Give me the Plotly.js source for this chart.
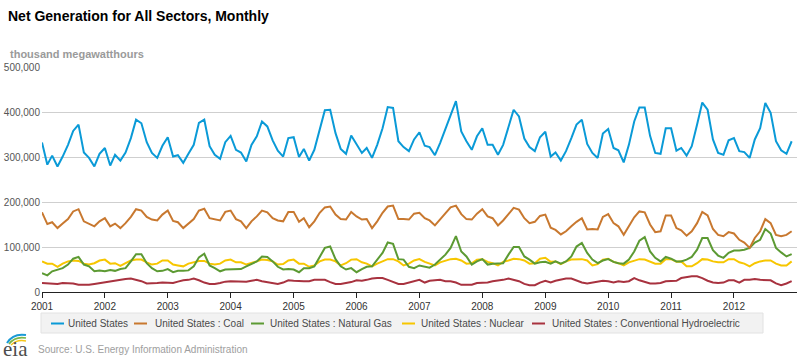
<!DOCTYPE html>
<html>
<head>
<meta charset="utf-8">
<script src="https://cdn.plot.ly/plotly-3.0.1.min.js"></script>
<style>
html,body{margin:0;padding:0;background:#fff;}
#chart{width:800px;height:361px;}
</style>
</head>
<body>
<div id="chart"></div>
<script>
// ---- Data (thousand megawatthours), monthly Jan 2001 - Dec 2012 ----
const years = [2001,2002,2003,2004,2005,2006,2007,2008,2009,2010,2011,2012];
const xTickLabels = ['2001','2002','2003','2004','2005','2006','2007','2008','2009','2010','2011','2012'];
const yTickValues = [0,100000,200000,300000,400000,500000];

const seriesNames = ['United States','United States : Coal','United States : Natural Gas','United States : Nuclear','United States : Conventional Hydroelectric'];

const unitedStates = [
 332,283,303,279,301,327,358,372,310,298,279,307,
 320,281,305,292,310,342,383,375,333,309,298,325,
 344,301,304,287,307,327,376,383,324,305,296,333,
 347,316,310,290,327,346,379,368,337,314,301,342,
 344,300,318,292,316,361,404,405,353,318,307,348,
 327,309,320,298,327,364,411,409,335,322,313,339,
 355,325,322,304,331,361,390,424,357,335,316,346,
 364,327,327,305,327,368,405,390,341,322,313,344,
 356,301,310,292,313,342,372,383,329,309,298,352,
 362,320,315,288,327,379,410,410,347,309,307,364,
 364,314,320,303,324,372,421,405,339,309,305,337,
 342,313,311,298,339,364,420,398,335,315,307,335
];
const coal = [
 177,151,155,142,152,162,179,184,157,151,146,157,
 164,146,152,142,153,167,184,181,167,161,159,172,
 181,158,155,142,151,162,181,185,164,161,159,178,
 181,162,157,142,157,168,181,177,164,159,157,178,
 178,156,164,144,157,176,188,190,172,162,161,178,
 168,161,162,142,157,176,190,192,162,162,161,174,
 176,164,159,148,161,174,188,192,173,162,161,174,
 184,168,164,148,159,173,187,183,164,153,156,169,
 172,143,138,128,135,146,156,164,139,140,139,167,
 173,153,146,127,146,166,179,177,150,133,135,170,
 170,142,137,125,135,153,178,170,140,127,124,133,
 130,116,110,98,120,135,162,153,127,124,127,135
];
const naturalGas = [
 42,37,46,50,53,61,74,78,61,57,46,48,
 46,49,47,51,53,68,84,84,64,53,46,47,
 51,44,47,47,48,57,77,85,59,53,46,50,
 50,51,51,57,63,68,79,78,68,56,50,51,
 50,44,53,53,57,79,98,101,73,57,50,53,
 44,51,56,57,72,87,110,107,73,72,56,53,
 59,57,54,61,72,83,98,124,90,79,61,68,
 73,61,63,64,64,83,100,100,79,72,63,66,
 67,63,68,63,68,79,101,109,87,72,64,70,
 73,67,64,63,72,90,114,122,90,76,68,78,
 74,68,68,72,78,94,120,120,93,81,76,87,
 92,92,94,98,110,116,140,130,98,88,79,84
];
const nuclear = [
 68,63,63,56,63,68,70,69,63,61,64,70,
 72,63,64,58,64,70,72,72,66,61,63,70,
 70,61,59,57,63,66,69,69,63,61,63,70,
 72,66,66,61,64,68,72,71,68,61,62,70,
 72,63,63,56,59,68,72,72,68,59,64,72,
 73,66,63,57,63,68,73,73,68,59,63,70,
 73,67,63,59,66,70,73,74,70,63,64,72,
 73,67,64,59,67,70,74,73,70,63,64,74,
 76,67,68,62,68,72,73,73,70,59,62,72,
 74,67,64,59,66,70,73,72,68,63,63,73,
 73,67,68,57,57,64,73,72,68,66,66,73,
 73,66,63,57,64,68,70,70,63,59,59,68
];
const hydro = [
 20,19,19,18,20,20,19,16,16,16,18,20,
 21,24,26,27,29,30,27,24,19,19,20,21,
 21,20,23,26,27,30,26,21,18,18,20,23,
 24,24,24,23,25,27,24,22,20,18,21,26,
 25,24,24,24,27,27,27,22,18,18,20,22,
 26,25,27,30,31,31,27,22,18,18,21,24,
 27,21,25,26,27,24,24,21,16,16,16,20,
 21,21,24,25,27,30,27,24,18,15,15,21,
 25,21,25,28,30,30,26,21,19,21,24,25,
 24,21,24,22,24,31,26,22,19,19,20,24,
 25,25,31,33,35,35,31,25,21,20,21,26,
 26,21,27,27,29,27,27,26,19,15,19,24
];
const colors = ['#0a9ad7','#c8782f','#5c9a33','#f7c600','#a8323f'];

// ---- build month dates ----
const months = [];
years.forEach(y => { for (let m = 1; m <= 12; m++) months.push(y + '-' + String(m).padStart(2,'0') + '-01'); });

const allSeries = [unitedStates, coal, naturalGas, nuclear, hydro];
const traces = allSeries.map((vals, i) => ({
  type: 'scatter', mode: 'lines', name: seriesNames[i],
  x: months, y: vals.map(v => v * 1000),
  line: {color: colors[i], width: 2},
  hoverinfo: 'x+y+name'
})).reverse();

// ---- layout helpers (pixel -> paper) ----
const L = 42, R = 3, T = 67, B = 69;
const W = 800 - L - R, H = 361 - T - B;
const px = p => (p - L) / W;
const py = p => (T + H - p) / H;

const font = 'Liberation Sans, Arial, Helvetica, sans-serif';
const shapes = [];
const annotations = [];

// units label
annotations.push({xref:'paper', yref:'paper', x: px(8), y: py(54), xanchor:'left', yanchor:'middle',
  text:'<b>thousand megawatthours</b>', showarrow:false, font:{family:font, size:11, color:'#9a9a9a'}});

// legend box
shapes.push({type:'rect', xref:'paper', yref:'paper', x0:px(41), x1:px(763), y0:py(313), y1:py(333),
  fillcolor:'#f2f2f2', line:{color:'#e2e2e2', width:1}, layer:'above'});
const legendLineX = [51, 134, 251, 402, 532];
const legendTextX = [67, 154, 269, 420, 551];
legendLineX.forEach((lx, i) => {
  shapes.push({type:'line', xref:'paper', yref:'paper', x0:px(lx), x1:px(lx+13), y0:py(323.5), y1:py(323.5),
    line:{color:colors[i], width:2}, layer:'above'});
  annotations.push({xref:'paper', yref:'paper', x: px(legendTextX[i] - 1), y: py(323.5), xanchor:'left', yanchor:'middle',
    text: seriesNames[i], showarrow:false, font:{family:font, size:10, color:'#4a4a4a'}});
});

// source
annotations.push({xref:'paper', yref:'paper', x: px(36), y: py(349), xanchor:'left', yanchor:'middle',
  text:'Source: U.S. Energy Information Administration', showarrow:false, font:{family:font, size:10, color:'#9e9e9e'}});

// eia logo
annotations.push({xref:'paper', yref:'paper', x: px(15), y: py(349), xanchor:'center', yanchor:'middle',
  text:'eia', showarrow:false, font:{family:'Liberation Serif, DejaVu Serif, serif', size:21, color:'#4d4d4d'}});
const arc = (x0, y0, cx, cy, x1, y1) => 'M ' + px(x0) + ',' + py(y0) + ' Q ' + px(cx) + ',' + py(cy) + ' ' + px(x1) + ',' + py(y1);
shapes.push({type:'path', xref:'paper', yref:'paper', path: arc(7,343,13,333,26,335), line:{color:'#1a9ad6', width:2}});
shapes.push({type:'path', xref:'paper', yref:'paper', path: arc(9,344,15,336,26,338), line:{color:'#7ab648', width:1.6}});
shapes.push({type:'path', xref:'paper', yref:'paper', path: arc(11,345,17,339,26,341), line:{color:'#f5c518', width:1.4}});

const layout = {
  width: 800, height: 361,
  margin: {l: L, r: R, t: T, b: B, pad: 0},
  paper_bgcolor: '#fff', plot_bgcolor: '#fff',
  showlegend: false,
  title: {text: '<b>Net Generation for All Sectors, Monthly</b>', x: 8/800, xanchor: 'left', xref: 'container',
          y: 1 - 16/361, yanchor: 'middle', yref: 'container', font: {family: font, size: 14, color: '#000'}},
  xaxis: {
    type: 'date', range: ['2001-01-01', '2013-01-01'],
    tickvals: years.map(y => y + '-01-01'), ticktext: xTickLabels,
    ticks: 'outside', ticklen: 5, tickwidth: 1, tickcolor: '#222',
    showline: true, linecolor: '#222', linewidth: 1,
    showgrid: false, zeroline: false,
    tickfont: {family: font, size: 10, color: '#333'}, fixedrange: true
  },
  yaxis: {
    range: [0, 500000], tickvals: yTickValues, tickformat: ',d',
    showgrid: true, gridcolor: '#cfcfcf', gridwidth: 1,
    zeroline: false, showline: false, ticks: '',
    ticklabelstandoff: 1,
    tickfont: {family: font, size: 10, color: '#555'}, fixedrange: true
  },
  shapes: shapes,
  annotations: annotations
};

Plotly.newPlot('chart', traces, layout, {displayModeBar: false, staticPlot: true});
</script>
</body>
</html>
